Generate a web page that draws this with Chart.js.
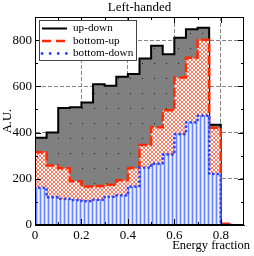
<!DOCTYPE html>
<html>
<head>
<meta charset="utf-8">
<script src="https://cdn.jsdelivr.net/npm/chart.js@4.4.0/dist/chart.umd.min.js"></script>
<style>
  html, body { margin: 0; padding: 0; background: #fff; }
</style>
</head>
<body>
<canvas id="chart" width="254" height="256" style="width:254px;height:256px"></canvas>
<script>
// Histogram bins (energy fraction), low edges plus the closing edge
const binEdges = [0, 0.05, 0.1, 0.15, 0.2, 0.25, 0.3, 0.35, 0.4, 0.45, 0.5, 0.55, 0.6, 0.65, 0.7, 0.75, 0.8, 0.85];

// Counts per bin (A.U.)
const upDown     = [377, 400, 506, 509, 530, 609, 602, 641, 653, 720, 776, 739, 810, 847, 853, 434, 0];
const bottomUp   = [315, 257, 246, 189, 167, 169, 174, 194, 247, 346, 423, 496, 638, 724, 802, 421, 5];
const bottomDown = [161, 120, 113, 108, 103, 109, 122, 128, 166, 248, 265, 305, 393, 444, 473, 221, 0];

// Axis ticks
const xTicks = [0, 0.2, 0.4, 0.6, 0.8];
const xMinor = [0.1, 0.3, 0.5, 0.7];
const yTicks = [0, 200, 400, 600, 800];
const yMinor = [100, 300, 500, 700];

const serif = "'Liberation Serif', 'Times New Roman', serif";
const canvas = document.getElementById('chart');

function makePattern(w, h, draw) {
    const c = document.createElement('canvas');
    c.width = w;
    c.height = h;
    draw(c.getContext('2d'));
    return canvas.getContext('2d').createPattern(c, 'repeat');
}

// Grey with sparse dots
const grayFill = makePattern(12, 15, g => {
    g.fillStyle = '#808080';
    g.fillRect(0, 0, 12, 15);
    g.fillStyle = '#1a1a1a';
    g.fillRect(10, 3, 1, 1);
});

// Red cross hatch
const redFill = makePattern(4, 4, g => {
    g.fillStyle = '#ffffff';
    g.fillRect(0, 0, 4, 4);
    g.fillStyle = '#ff7a62';
    for (let i = 0; i < 4; i++) {
        g.fillRect(i, i, 1, 1);
        g.fillRect(3 - i, i, 1, 1);
    }
});

// Blue vertical stripes
const blueFill = makePattern(4, 1, g => {
    g.fillStyle = '#c4ceff';
    g.fillRect(0, 0, 4, 1);
    g.fillStyle = '#6c86ff';
    g.fillRect(0, 0, 1, 1);
    g.fillStyle = '#eef1ff';
    g.fillRect(2, 0, 1, 1);
});

// histogram values -> step points (start and end at zero)
function steps(vals) {
    const pts = [{ x: binEdges[0], y: 0 }];
    vals.forEach((v, i) => pts.push({ x: binEdges[i], y: v }));
    pts.push({ x: binEdges[vals.length], y: vals[vals.length - 1] });
    pts.push({ x: binEdges[vals.length], y: 0 });
    return pts;
}

const decorations = {
    id: 'decorations',
    afterDatasetsDraw(chart) {
        const { ctx, chartArea: a, scales: { x, y } } = chart;
        ctx.save();

        // frame
        ctx.strokeStyle = '#000';
        ctx.lineWidth = 1;
        ctx.strokeRect(a.left + 0.5, a.top + 0.5, a.right - a.left - 1, a.bottom - a.top - 1);

        // inner ticks on all sides
        ctx.beginPath();
        const tx = (v, len) => {
            const px = Math.round(x.getPixelForValue(v)) + 0.5;
            ctx.moveTo(px, a.bottom); ctx.lineTo(px, a.bottom - len);
            ctx.moveTo(px, a.top); ctx.lineTo(px, a.top + len);
        };
        const ty = (v, len) => {
            const py = Math.round(y.getPixelForValue(v)) + 0.5;
            ctx.moveTo(a.left, py); ctx.lineTo(a.left + len, py);
            ctx.moveTo(a.right, py); ctx.lineTo(a.right - len, py);
        };
        xTicks.forEach(v => tx(v, 6));
        xMinor.forEach(v => tx(v, 3));
        yTicks.forEach(v => ty(v, 6));
        yMinor.forEach(v => ty(v, 3));
        ctx.stroke();

        // title and x label
        ctx.fillStyle = '#000';
        ctx.font = '13px ' + serif;
        ctx.textAlign = 'center';
        ctx.textBaseline = 'middle';
        ctx.fillText('Left-handed', (a.left + a.right) / 2, 8);
        ctx.font = '12.5px ' + serif;
        ctx.textAlign = 'right';
        ctx.fillText('Energy fraction', 250, 246);

        // legend box
        const lx = 39.5, ly = 20.5, lw = 97, lh = 40;
        ctx.fillStyle = '#fff';
        ctx.fillRect(lx, ly, lw, lh);
        ctx.strokeStyle = '#444';
        ctx.lineWidth = 1;
        ctx.strokeRect(lx, ly, lw, lh);
        chart.data.datasets.forEach((ds, i) => {
            const yy = 28.5 + i * 12.5;
            ctx.save();
            ctx.strokeStyle = ds.borderColor;
            ctx.lineWidth = ds.borderWidth;
            ctx.lineCap = ds.borderCapStyle || 'butt';
            ctx.setLineDash(ds.legendDash || []);
            ctx.beginPath();
            ctx.moveTo(42, yy);
            ctx.lineTo(67, yy);
            ctx.stroke();
            ctx.restore();
            ctx.fillStyle = '#000';
            ctx.font = '11.2px ' + serif;
            ctx.textAlign = 'left';
            ctx.fillText(ds.label, 73, yy);
        });
        ctx.restore();
    }
};

const gridStyle = {
    color: '#666',
    lineWidth: 0.8,
    drawTicks: false
};
const borderStyle = { display: true, color: '#000', dash: [4, 2] };

new Chart(canvas, {
    type: 'line',
    data: {
        datasets: [{
            label: 'up-down',
            data: steps(upDown),
            borderColor: '#000',
            borderWidth: 2,
            backgroundColor: grayFill,
            fill: 'origin',
            stepped: 'before',
            pointRadius: 0,
            order: 3,
            legendDash: []
        }, {
            label: 'bottom-up',
            data: steps(bottomUp),
            borderColor: '#ff2a00',
            borderWidth: 2.5,
            borderDash: [9, 3],
            backgroundColor: redFill,
            fill: 'origin',
            stepped: 'before',
            pointRadius: 0,
            order: 2,
            legendDash: [9, 5]
        }, {
            label: 'bottom-down',
            data: steps(bottomDown),
            borderColor: '#2848ff',
            borderWidth: 2.8,
            borderDash: [0.1, 4.5],
            borderCapStyle: 'round',
            backgroundColor: blueFill,
            fill: 'origin',
            stepped: 'before',
            pointRadius: 0,
            order: 1,
            legendDash: [0.1, 8]
        }]
    },
    options: {
        responsive: false,
        animation: false,
        layout: { padding: { top: 17, right: 10, left: 0, bottom: 0 } },
        plugins: {
            legend: { display: false },
            tooltip: { enabled: false }
        },
        scales: {
            x: {
                type: 'linear',
                min: 0,
                max: 0.9,
                afterBuildTicks: s => { s.ticks = xTicks.map(v => ({ value: v })); },
                afterFit: s => { s.height = 31; },
                grid: gridStyle,
                border: borderStyle,
                ticks: {
                    padding: 3,
                    color: '#000',
                    font: { family: serif, size: 13 },
                    callback: v => String(+v.toFixed(1))
                }
            },
            y: {
                min: 0,
                max: 900,
                afterBuildTicks: s => { s.ticks = yTicks.map(v => ({ value: v })); },
                afterFit: s => { s.width = 35; },
                grid: gridStyle,
                border: borderStyle,
                title: {
                    display: true,
                    text: 'A.U.',
                    color: '#000',
                    font: { family: serif, size: 12.5 },
                    padding: 0
                },
                ticks: {
                    padding: 3,
                    color: '#000',
                    font: { family: serif, size: 13 }
                }
            }
        }
    },
    plugins: [decorations]
});
</script>
</body>
</html>
